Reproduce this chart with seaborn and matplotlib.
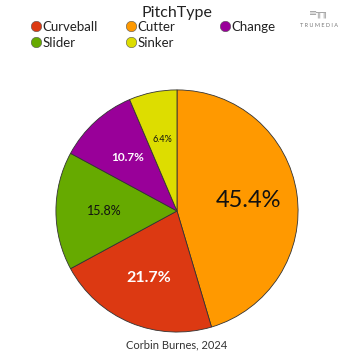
import seaborn as sns
import matplotlib.pyplot as plt
from matplotlib.lines import Line2D

# Pitch mix (clockwise from 12 o'clock)
pitch_types = ["Cutter", "Curveball", "Slider", "Change", "Sinker"]
usage_pct = [45.4, 21.7, 15.8, 10.7, 6.4]
pitch_colors = ["#FF9900", "#DC3912", "#66AA00", "#990099", "#DDDD00"]

# legend reads row by row in this order
legend_order = ["Curveball", "Cutter", "Change", "Slider", "Sinker"]

title = "PitchType"
caption = "Corbin Burnes, 2024"

sns.set_theme(style="white")
plt.rcParams['font.family'] = ['Lato', 'DejaVu Sans']

fig = plt.figure(figsize=(3.54, 3.54), dpi=100)
ax = fig.add_axes([0.158, 0.062, 0.684, 0.684])

wedges, texts, autotexts = ax.pie(
    usage_pct, colors=pitch_colors, startangle=90, counterclock=False,
    autopct='%1.1f%%', pctdistance=0.6,
    wedgeprops=dict(edgecolor='#333333', linewidth=0.6))
ax.set_xlim(-1, 1)
ax.set_ylim(-1, 1)
ax.set_aspect('equal')

# label size follows slice size, white bold on the darker slices
for pct, t in zip(usage_pct, autotexts):
    if pct > 40:
        t.set_fontsize(17)
        t.set_color('#111111')
    elif pct > 20:
        t.set_fontsize(11.5)
        t.set_color('white')
        t.set_fontweight('bold')
    elif pct > 12:
        t.set_fontsize(9)
        t.set_color('#111111')
    elif pct > 8:
        t.set_fontsize(8.5)
        t.set_color('white')
        t.set_fontweight('bold')
    else:
        t.set_fontsize(6.5)
        t.set_color('#111111')

# legend, three columns laid out row-major
color_of = dict(zip(pitch_types, pitch_colors))
columns = [legend_order[0::3], legend_order[1::3], legend_order[2::3]]
col_x = [0.085, 0.352, 0.618]
for x, names in zip(col_x, columns):
    handles = [Line2D([], [], marker='o', linestyle='', markersize=7.5,
                      markerfacecolor=color_of[n], markeredgecolor='#555555',
                      markeredgewidth=0.4) for n in names]
    fig.legend(handles, names, loc='upper left', bbox_to_anchor=(x, 0.941),
               frameon=False, fontsize=9.5, handletextpad=0.05,
               handlelength=0.9, labelspacing=0.3, borderpad=0,
               borderaxespad=0, labelcolor='#222222')

fig.text(0.5, 0.963, title, ha='center', va='center', fontsize=11.5,
         color='#222222')
fig.text(0.5, 0.025, caption, ha='center', va='center', fontsize=8,
         color='#333333')

# TruMedia mark
fig.text(0.902, 0.962, "≡╥╖", ha='center', va='center', fontsize=7,
         color='#999999', family='DejaVu Sans')
fig.text(0.902, 0.928, "T R U M E D I A", ha='center', va='center',
         fontsize=4, color='#777777')

fig.savefig('out.png', dpi=100, facecolor='white')
